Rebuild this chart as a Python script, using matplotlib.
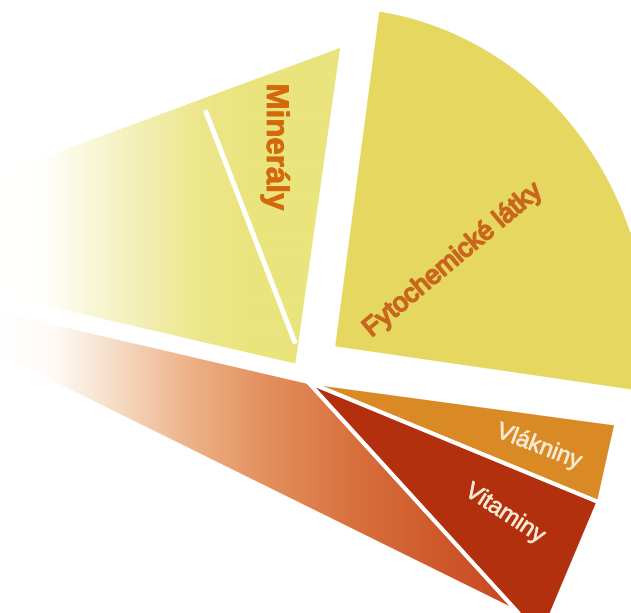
import numpy as np
import matplotlib
matplotlib.use("Agg")
import matplotlib.pyplot as plt
from matplotlib.patches import Polygon
from matplotlib.colors import to_rgb
import matplotlib.patheffects as pe

# ---------------- data ----------------
labels = ["Fytochemické látky", "Minerály", "", "Vitaminy", "Vlákniny"]
values = [24.9, 23.6, 40.4, 7.0, 4.1]

# ---------------- style / layout (pixels, y up) ----------------
W, H = 631, 613
start_angle = -7.7
face = ["#E6D761", "#EAE47D", "#C7461C", "#B3300E", "#D98A24"]
centers = [(333, 265), (297, 247), (308, 231), (308, 231), (308, 231)]
radii = [(318, 342), (420, 420), (420, 420), (400, 400), (400, 400)]
# straight (perspective) outer edges, given as a line that clips the slice
straight_edges = [None,
                  ((345, 569), (77, 470)),
                  ((67, 223), (517, 1)),
                  ((598, 110), (553, 3)),
                  ((615, 183), (600, 116))]
# horizontal fade of the far (left) side: (x, colour) stops
fades = {
    1: [(0, "#FFFFFF"), (45, "#FFFFFA"), (115, "#F6F3C8"), (195, "#EDE78E"),
        (250, "#EAE47D"), (631, "#EAE47D")],
    2: [(0, "#FFFFFF"), (55, "#FFFAF6"), (115, "#F6DCC6"), (185, "#EEB48C"),
        (260, "#E4925F"), (360, "#D86E3C"), (460, "#CC5428"),
        (560, "#C4421C"), (631, "#C03C18")],
}
label_style = [
    dict(xy=(453, 353), rot=40, size=19, color="#C8661C", weight="normal", halo=1.3),
    dict(xy=(275, 466), rot=-90, size=22.5, color="#D4690C", weight="bold", halo=0.6),
    None,
    dict(xy=(505, 99), rot=-33, size=17, color="#F7E8D2", weight="normal", halo=0.5),
    dict(xy=(539, 166), rot=-21, size=17, color="#F7E8D2", weight="normal", halo=0.5),
]
divider = dict(slice=1, offset=(7, 0), angle=111.1, r0=24, r1=274, lw=3.6)


def clip_halfplane(poly, p1, p2, ref):
    p1 = np.asarray(p1, float)
    p2 = np.asarray(p2, float)
    d = p2 - p1
    n = np.array([-d[1], d[0]])
    s = np.sign(np.dot(np.asarray(ref, float) - p1, n))
    out = []
    N = len(poly)
    for i in range(N):
        a, b = poly[i], poly[(i + 1) % N]
        fa, fb = s * np.dot(a - p1, n), s * np.dot(b - p1, n)
        if fa >= 0:
            out.append(a)
        if (fa >= 0) != (fb >= 0):
            t = fa / (fa - fb)
            out.append(a + t * (b - a))
    return np.array(out)


plt.rcParams["font.family"] = ["Liberation Sans", "DejaVu Sans"]
fig = plt.figure(figsize=(W / 100, H / 100), dpi=100)
ax = fig.add_axes([0, 0, 1, 1])

wedges, _ = ax.pie(values, startangle=start_angle, counterclock=True,
                   radius=1, center=(0, 0), normalize=True)

xs = np.arange(W) + 0.5
for i, w in enumerate(wedges):
    w.set_visible(False)
    t = np.radians(np.linspace(w.theta1, w.theta2, 300))
    c = np.asarray(centers[i], float)
    rx, ry = radii[i]
    verts = np.vstack([c, np.column_stack([c[0] + rx * np.cos(t),
                                           c[1] + ry * np.sin(t)])])
    if straight_edges[i] is not None:
        verts = clip_halfplane(verts, *straight_edges[i], ref=c)
    poly = Polygon(verts, closed=True, facecolor=face[i], edgecolor="none",
                   zorder=1)
    ax.add_patch(poly)
    if i in fades:
        stops = fades[i]
        sx = [s[0] for s in stops]
        cols = np.array([to_rgb(s[1]) for s in stops])
        row = np.column_stack([np.interp(xs, sx, cols[:, k]) for k in range(3)])
        img = np.tile(row[None, :, :], (2, 1, 1))
        ax.imshow(img, extent=(0, W, 0, H), origin="lower", aspect="auto",
                  interpolation="bilinear", zorder=2, clip_path=poly)
    ax.add_patch(Polygon(verts, closed=True, facecolor="none",
                         edgecolor="white", lw=2.8, zorder=3,
                         joinstyle="miter"))
    ls = label_style[i]
    if ls is not None and labels[i]:
        ax.text(ls["xy"][0], ls["xy"][1], labels[i], rotation=ls["rot"],
                rotation_mode="anchor", ha="center", va="center",
                fontsize=ls["size"], color=ls["color"],
                fontweight=ls["weight"], zorder=5,
                path_effects=[pe.withStroke(linewidth=ls["halo"],
                                            foreground=ls["color"])])

# white divider line inside the Minerály slice
dc = np.asarray(centers[divider["slice"]], float) + np.asarray(divider["offset"], float)
a = np.radians(divider["angle"])
ax.plot([dc[0] + divider["r0"] * np.cos(a), dc[0] + divider["r1"] * np.cos(a)],
        [dc[1] + divider["r0"] * np.sin(a), dc[1] + divider["r1"] * np.sin(a)],
        color="white", lw=divider["lw"], solid_capstyle="butt", zorder=4)

ax.set_xlim(0, W)
ax.set_ylim(0, H)
ax.set_aspect("auto")
ax.axis("off")
fig.savefig("out.png", dpi=100)
